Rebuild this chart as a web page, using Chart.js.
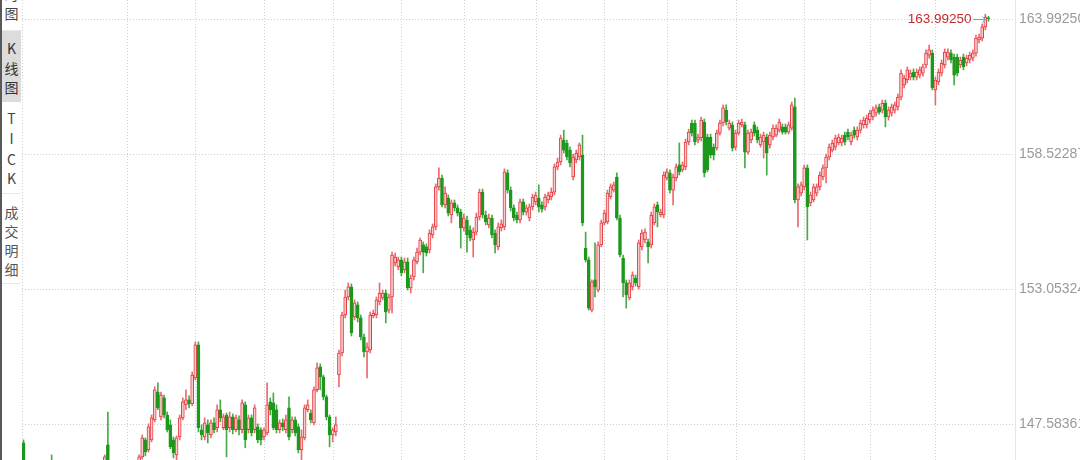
<!DOCTYPE html>
<html><head><meta charset="utf-8">
<script src="https://cdn.jsdelivr.net/npm/chart.js@4"></script>
<style>
html,body{margin:0;padding:0;background:#fff;overflow:hidden;}
#wrap{position:relative;width:1080px;height:460px;overflow:hidden;background:#fff;}
#c{position:absolute;left:0;top:0;}
#side{position:absolute;left:0;top:0;width:21px;height:460px;background:#fff;font-family:"Noto Sans CJK SC","Noto Sans",sans-serif;font-size:14px;color:#444;overflow:hidden;}
.edge{position:absolute;left:0;top:0;width:2px;height:460px;background:#595959;}
.ch{position:absolute;left:2px;width:19px;height:20px;line-height:20px;text-align:center;}
.sel{position:absolute;left:2px;top:31px;width:19px;height:71px;background:#dcdcdc;}
.sep{position:absolute;left:2px;width:19px;height:1px;background:#e8e8e8;}
</style></head>
<body>
<div id="wrap">
<canvas id="c" width="1080" height="460"></canvas>
<div id="side">
  <div class="edge"></div>
  <div class="ch" style="top:-36px">分</div>
  <div class="ch" style="top:-16px">时</div>
  <div class="ch" style="top:3px">图</div>
  <div class="sep" style="top:30px"></div>
  <div class="sel"></div>
  <div class="ch" style="top:38px;color:#333">K</div>
  <div class="ch" style="top:58px;color:#333">线</div>
  <div class="ch" style="top:77px;color:#333">图</div>
  <div class="ch" style="top:108px">T</div>
  <div class="ch" style="top:128px">I</div>
  <div class="ch" style="top:149px">C</div>
  <div class="ch" style="top:168px">K</div>
  <div class="sep" style="top:193px"></div>
  <div class="ch" style="top:202px;color:#555">成</div>
  <div class="ch" style="top:221px;color:#555">交</div>
  <div class="ch" style="top:240px;color:#555">明</div>
  <div class="ch" style="top:259px;color:#555">细</div>
  <div class="sep" style="top:283px"></div>
</div>
</div>
<script>
const open = [
146.82,145.45,145.70,145.45,145.62,145.80,145.58,145.32,145.55,145.82,
145.62,145.38,145.58,145.30,145.05,145.28,145.55,145.38,145.60,145.82,
145.55,145.75,145.48,145.68,145.95,145.80,145.75,146.74,145.55,145.80,
145.55,145.35,145.62,145.80,145.58,145.82,146.02,
145.64,146.25,146.94,146.54,146.94,147.75,148.88,147.87,148.64,147.95,
147.55,146.94,146.33,147.06,147.83,148.36,148.56,148.40,149.45,150.79,
147.35,147.06,147.55,147.14,147.63,147.43,148.16,147.43,147.95,147.43,
147.87,147.35,147.75,147.35,148.36,147.35,147.83,147.35,147.47,147.35,
147.06,147.22,148.48,148.44,148.16,147.35,147.63,147.35,148.24,147.35,
147.75,147.47,146.54,147.02,148.16,148.03,147.63,148.97,149.90,149.49,
148.68,147.87,147.14,147.26,
149.57,150.46,152.00,152.73,153.14,151.92,152.41,151.88,151.11,150.50,
150.58,151.96,152.00,152.53,152.69,152.89,152.20,152.73,154.11,153.95,
154.23,153.83,154.15,
153.10,153.54,154.15,154.55,154.84,154.76,154.64,155.24,155.57,157.19,
157.55,156.46,156.74,156.05,156.54,156.34,156.17,155.53,155.85,155.45,
155.04,155.36,155.97,156.98,156.05,155.65,155.93,155.32,154.76,155.53,
155.57,157.76,157.06,156.34,156.05,155.85,156.58,156.17,155.93,156.38,
156.58,156.74,156.46,156.38,156.66,156.78,156.98,158.00,158.20,159.09,
158.97,158.68,157.59,158.28,158.40,158.48,
154.71,154.23,152.20,153.42,153.01,154.84,155.73,155.77,156.78,157.06,
157.59,155.93,154.31,153.30,152.69,153.14,153.50,153.14,154.76,155.04,
154.96,154.84,155.73,156.46,156.05,156.05,157.55,157.76,157.06,157.55,
158.08,157.88,158.00,159.01,159.78,159.78,159.09,159.17,159.82,159.21,
159.21,158.80,158.76,159.37,159.78,160.30,159.57,159.70,158.80,159.37,
159.70,159.70,158.60,159.09,159.70,159.49,158.89,159.01,159.21,158.89,
159.21,159.29,159.49,159.62,159.62,159.41,159.57,160.43,
156.66,156.94,157.19,157.96,156.54,156.66,156.94,157.19,157.59,157.96,
158.40,158.68,158.80,158.97,158.97,159.29,159.41,159.01,159.49,159.21,
159.49,159.70,159.70,159.90,160.02,160.18,160.43,160.30,160.59,160.02,
160.18,160.30,160.43,160.83,161.32,161.52,161.64,161.84,161.64,161.72,
161.80,162.13,162.53,162.61,161.12,161.44,161.80,162.13,162.45,162.61,
162.45,162.45,162.13,162.45,162.21,162.33,162.41,162.61,163.14,163.22,
163.67,164.04];

const high = [
146.94,145.80,145.85,145.75,145.92,145.88,145.66,145.68,145.95,146.33,
145.70,145.70,145.65,145.40,145.42,145.68,145.62,145.72,145.95,145.90,
145.88,145.85,145.80,146.02,146.00,146.04,146.33,148.07,145.92,145.90,
145.62,145.75,145.95,145.88,145.95,146.05,146.05,
146.33,147.14,147.02,147.59,147.95,149.09,149.25,148.88,148.76,148.07,
147.75,147.06,147.10,147.95,148.64,148.97,148.72,149.69,150.91,150.91,
147.55,147.83,147.75,147.75,147.83,148.36,148.56,147.99,148.03,148.07,
147.99,147.95,147.91,148.56,148.48,147.95,147.95,148.36,147.59,147.43,
147.43,149.25,148.64,148.84,148.36,147.75,147.79,147.95,148.68,147.87,
147.87,147.59,147.35,148.36,148.56,148.16,149.09,150.06,150.02,149.57,
148.76,147.95,147.43,147.87,
150.58,152.12,153.01,153.30,153.26,152.61,152.53,152.00,151.23,150.87,
152.12,152.20,152.73,153.30,153.01,153.01,152.85,154.55,154.51,154.35,
154.35,154.31,154.31,
153.62,154.35,154.71,155.12,154.96,154.88,155.45,155.69,157.31,157.96,
157.67,157.19,156.86,156.66,156.66,156.46,156.29,156.09,156.01,155.61,
155.53,156.13,157.10,157.10,156.21,156.09,156.05,155.45,155.73,155.85,
157.92,157.88,157.19,156.46,156.17,156.70,156.70,156.46,156.50,156.90,
156.98,157.27,156.58,156.90,156.98,157.15,158.12,158.36,159.29,159.49,
159.09,158.80,158.52,158.68,158.97,159.29,
155.36,154.35,153.42,154.92,154.96,155.85,156.25,157.06,157.31,157.39,
157.76,156.05,154.43,153.42,153.42,153.75,153.62,155.04,155.45,155.49,
155.08,156.17,156.50,156.58,156.29,157.80,157.92,157.88,157.71,158.12,
158.97,158.20,159.13,159.53,159.90,159.90,159.33,160.02,159.94,159.33,
159.33,158.93,159.49,159.90,160.51,160.51,159.90,159.82,159.49,159.90,
159.94,159.82,159.49,159.53,159.82,159.62,159.33,159.41,159.33,159.41,
159.70,159.70,159.94,159.74,159.74,159.82,160.63,160.79,
157.31,157.39,158.08,158.08,156.98,157.31,157.31,157.80,158.08,158.52,
158.93,159.09,159.29,159.33,159.29,159.41,159.53,159.41,159.62,159.62,
159.90,160.02,160.10,160.30,160.43,160.51,160.55,160.71,160.71,160.43,
160.55,160.63,160.95,161.93,161.72,162.05,161.93,161.97,161.97,162.05,
162.17,162.74,162.94,162.74,161.64,161.97,162.33,162.78,162.78,162.74,
162.57,162.57,162.45,162.57,162.53,162.65,162.74,163.34,163.38,163.79,
164.19,164.10];

const low = [
145.40,145.30,145.35,145.30,145.52,145.42,145.22,145.18,145.45,145.48,
145.25,145.20,145.10,144.92,144.88,145.15,145.25,145.25,145.48,145.40,
145.42,145.35,145.35,145.55,145.60,145.65,145.60,145.40,145.40,145.42,
145.20,145.25,145.50,145.45,145.45,145.70,145.62,
145.52,146.17,146.29,146.45,146.86,147.67,148.16,147.75,147.83,147.26,
146.58,146.21,146.12,146.94,147.75,148.16,148.24,148.32,149.37,147.26,
146.94,146.94,146.82,147.02,147.22,147.26,147.67,147.35,146.25,147.26,
147.18,147.26,147.14,147.22,146.62,147.22,147.10,147.22,146.82,146.74,
146.94,147.14,147.95,147.35,147.22,147.22,147.31,147.22,146.94,147.22,
147.10,146.41,146.12,146.94,148.07,147.63,147.55,148.88,148.97,148.56,
147.75,146.66,146.86,147.10,
149.09,150.34,151.88,152.61,151.15,151.80,151.72,150.99,150.30,149.45,
150.46,151.88,151.88,152.41,152.61,151.68,152.08,152.08,153.99,153.83,
153.59,153.71,153.01,
152.89,153.42,154.07,154.43,153.71,154.39,154.51,155.12,155.45,157.06,
156.38,156.34,156.01,155.73,156.21,156.01,154.71,155.40,154.55,155.00,
154.35,155.24,155.85,155.93,155.65,155.53,155.12,154.51,154.64,155.40,
155.45,156.94,156.21,155.81,155.73,155.73,156.05,156.05,155.81,156.25,
156.46,156.17,156.17,156.25,156.54,156.66,156.86,157.88,158.08,158.56,
158.28,158.00,157.47,158.16,158.28,155.61,
154.15,152.20,152.12,152.73,152.93,154.76,155.65,155.69,156.70,156.98,
155.85,154.35,152.73,152.28,152.61,153.01,153.18,153.05,154.64,154.92,
154.11,154.71,155.65,155.57,155.97,155.93,157.47,156.94,156.46,157.43,
157.67,157.80,157.88,158.89,159.25,158.89,158.97,159.05,157.59,157.80,
158.36,158.28,158.68,159.29,159.66,159.70,159.49,158.64,158.68,159.29,
159.62,157.96,158.52,158.97,159.25,158.97,158.80,158.36,157.67,158.76,
159.09,159.21,159.41,159.33,159.33,159.33,159.49,156.54,
155.57,156.82,157.06,155.04,156.42,156.58,156.82,157.06,157.47,157.35,
158.28,158.60,158.68,158.89,158.85,158.89,159.09,158.89,159.17,159.09,
159.37,159.57,159.57,159.78,159.90,160.06,160.14,160.18,159.62,159.90,
160.06,160.18,160.30,160.71,161.20,161.40,161.52,161.52,161.52,161.60,
161.68,162.01,162.41,161.12,160.51,161.32,161.68,162.01,162.33,162.21,
161.32,161.68,162.01,161.93,162.09,162.21,162.29,162.49,163.02,163.10,
163.55,163.90];

const close = [
145.62,145.70,145.50,145.62,145.80,145.58,145.35,145.55,145.78,145.62,
145.40,145.58,145.30,145.05,145.28,145.55,145.38,145.60,145.82,145.55,
145.75,145.48,145.68,145.95,145.80,145.98,146.25,145.62,145.80,145.55,
145.35,145.62,145.80,145.58,145.82,146.02,145.75,
146.25,147.02,146.45,147.47,147.83,148.97,148.24,148.76,147.95,147.35,
146.66,146.41,147.02,147.83,148.48,148.56,148.40,149.57,150.79,147.43,
147.14,147.63,147.22,147.63,147.35,148.16,147.83,147.87,147.35,147.87,
147.35,147.83,147.35,148.44,146.94,147.83,147.22,148.24,146.94,146.94,
147.35,148.36,148.16,147.43,147.35,147.63,147.47,147.75,147.06,147.75,
147.22,146.54,147.06,148.24,148.36,147.75,148.97,149.86,149.49,148.68,
147.87,147.14,147.35,147.55,
150.46,152.00,152.73,153.14,151.27,152.49,151.88,151.11,150.50,150.71,
152.00,152.08,152.61,152.89,152.89,152.12,152.73,154.43,154.35,154.23,
153.71,154.15,153.10,
153.50,154.23,154.55,155.04,154.55,154.51,155.32,155.57,157.19,157.55,
156.46,156.94,156.13,156.54,156.34,156.13,155.53,155.93,155.24,155.12,
155.36,155.97,156.98,156.05,155.77,155.93,155.24,154.84,155.57,155.69,
157.80,157.06,156.34,155.93,155.85,156.58,156.17,156.34,156.38,156.78,
156.86,156.38,156.29,156.78,156.86,156.98,158.00,158.20,159.17,158.68,
158.40,158.16,158.40,158.56,158.89,155.73,
154.23,152.28,153.34,153.14,154.84,155.73,156.13,156.94,157.19,157.27,
155.93,154.43,153.30,152.81,153.30,153.62,153.30,154.92,155.32,155.36,
154.76,156.05,156.38,156.17,156.17,157.67,157.80,157.06,157.59,158.00,
157.80,158.08,159.01,159.41,159.37,159.01,159.21,159.90,157.76,157.88,
158.48,158.48,159.37,159.78,160.39,159.82,159.78,158.76,159.37,159.78,
159.82,158.60,159.37,159.41,159.37,159.09,159.21,159.29,158.56,159.29,
159.57,159.57,159.82,159.41,159.41,159.70,160.51,156.66,
157.19,157.27,157.96,156.38,156.86,157.19,157.19,157.67,157.96,158.40,
158.80,158.97,159.17,159.21,159.17,159.01,159.21,159.29,159.29,159.49,
159.78,159.90,159.98,160.18,160.30,160.39,160.22,160.59,160.02,160.30,
160.43,160.51,160.83,161.80,161.60,161.93,161.80,161.64,161.84,161.93,
162.05,162.61,162.74,161.20,161.52,161.84,162.21,162.65,162.65,162.33,
161.72,161.80,162.33,162.05,162.41,162.53,162.61,163.22,163.26,163.67,
164.07,163.9925];

// right axis tick values and positions of the vertical (time) grid lines
const yTicks = [147.58361, 153.05324, 158.52287, 163.99250];
const gridIdx = [33, 55, 77, 99, 121, 141, 164, 186, 206, 228, 250, 271, 292];
const futureSlots = 8;
const yMin = 146.125, yMax = 164.762;

const labels = Array.from({length: open.length + futureSlots}, (_, i) => String(i + 1));
const UP = '#e5393f', UP_FILL = '#f8cccc', UP_WICK = '#ea6a6e';
const DN = '#1c991c', DN_WICK = '#46aa46';
const isUp = close.map((c, i) => c >= open[i]);

const gridPlugin = {
  id: 'klineGrid',
  beforeDatasetsDraw(chart) {
    const {ctx, chartArea: a, scales: {x, y}} = chart;
    ctx.save();
    ctx.strokeStyle = '#cfcfcf';
    ctx.lineWidth = 1;
    ctx.setLineDash([1, 2]);
    yTicks.forEach(v => {
      const py = Math.round(y.getPixelForValue(v)) + 0.5;
      ctx.beginPath(); ctx.moveTo(a.left, py); ctx.lineTo(a.right, py); ctx.stroke();
    });
    [a.left].concat(gridIdx.map(i => x.getPixelForValue(i))).forEach(px => {
      px = Math.round(px) + 0.5;
      ctx.beginPath(); ctx.moveTo(px, a.top); ctx.lineTo(px, a.bottom); ctx.stroke();
    });
    ctx.setLineDash([]);
    ctx.strokeStyle = '#e6e6e6';
    const rx = Math.round(a.right) + 0.5;
    ctx.beginPath(); ctx.moveTo(rx, a.top); ctx.lineTo(rx, a.bottom); ctx.stroke();
    ctx.restore();
  },
  afterDatasetsDraw(chart) {
    const {ctx, scales: {x, y}} = chart;
    const n = close.length - 1;
    const px = x.getPixelForValue(n);
    const py = Math.round(y.getPixelForValue(close[n]));
    ctx.save();
    ctx.font = '13.5px "Liberation Sans", Arial, sans-serif';
    ctx.fillStyle = '#c8282c';
    ctx.textAlign = 'right';
    ctx.textBaseline = 'middle';
    const tx = px - 17;
    ctx.fillText(close[n].toFixed(5), tx, py);
    ctx.strokeStyle = '#6f9fcf';
    ctx.lineWidth = 1;
    ctx.beginPath(); ctx.moveTo(tx + 2, py + 0.5); ctx.lineTo(px - 3, py + 0.5); ctx.stroke();
    ctx.beginPath(); ctx.moveTo(px - 6, py - 2.5); ctx.lineTo(px - 3, py + 0.5); ctx.lineTo(px - 6, py + 3.5); ctx.stroke();
    ctx.restore();
  }
};

new Chart(document.getElementById('c'), {
  type: 'bar',
  data: {
    labels: labels,
    datasets: [
      {
        label: 'wick',
        data: low.map((l, i) => [l, high[i]]),
        backgroundColor: isUp.map(u => u ? UP_WICK : DN_WICK),
        borderWidth: 0,
        barThickness: 1,
        grouped: false,
        order: 2
      },
      {
        label: 'body',
        data: open.map((o, i) => [o, close[i]]),
        backgroundColor: isUp.map(u => u ? UP_FILL : DN),
        borderColor: isUp.map(u => u ? UP : DN),
        borderWidth: 1,
        borderSkipped: false,
        barThickness: 3,
        minBarLength: 1,
        grouped: false,
        order: 1
      }
    ]
  },
  options: {
    responsive: false,
    animation: false,
    devicePixelRatio: 1,
    events: [],
    layout: {padding: {left: 22, right: 0, top: 0, bottom: 0}},
    plugins: {legend: {display: false}, tooltip: {enabled: false}},
    scales: {
      x: {display: false, offset: true},
      y: {
        position: 'right',
        min: yMin,
        max: yMax,
        afterBuildTicks: s => { s.ticks = yTicks.map(v => ({value: v})); },
        afterFit: s => { s.width = 65; s.paddingTop = 0; s.paddingBottom = 0; },
        grid: {display: false, drawTicks: false},
        border: {display: false},
        ticks: {
          color: '#9a9a9a',
          padding: 4,
          font: {family: '"Liberation Sans", Arial, sans-serif', size: 14},
          callback: v => Number(v).toFixed(5)
        }
      }
    }
  },
  plugins: [gridPlugin]
});
</script>
</body></html>
